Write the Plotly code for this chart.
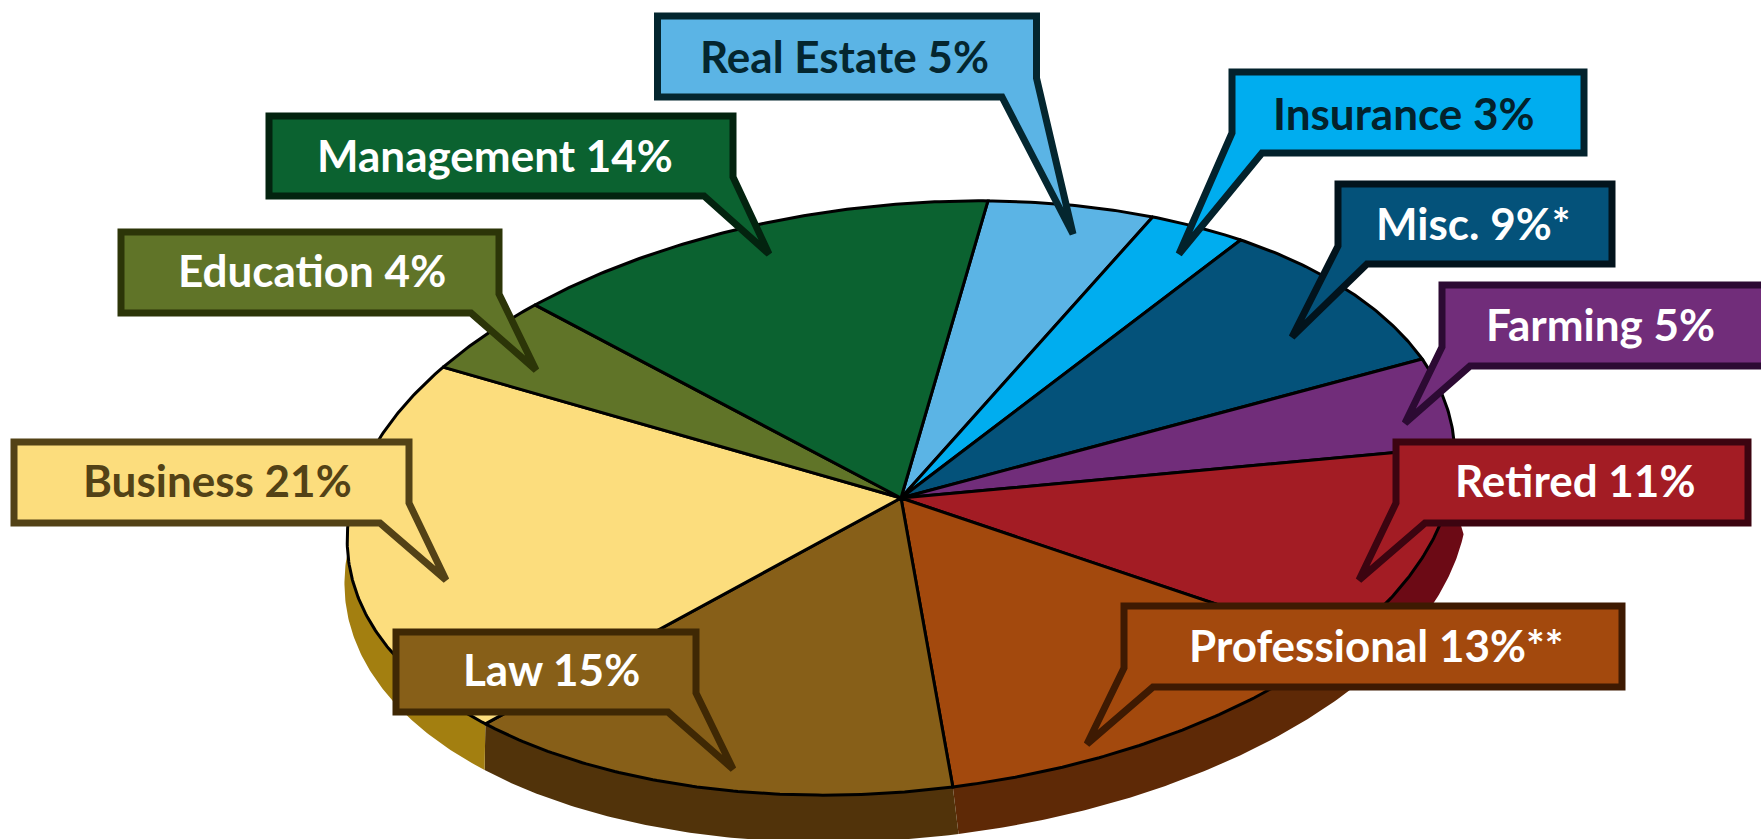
import math
import plotly.graph_objects as go

# ---------- data ----------
categories = ["Real Estate", "Insurance", "Misc.", "Farming", "Retired",
              "Professional", "Law", "Business", "Education", "Management"]
shares = [5, 3, 9, 5, 11, 13, 15, 21, 4, 14]
label_suffix = ["", "", "*", "", "", "**", "", "", "", ""]

top_colors = ["#5BB4E5", "#00ADEF", "#04527A", "#712D7A", "#A31C24",
              "#A3490D", "#875F18", "#FCDD7D", "#607428", "#0B6230"]
side_colors = ["#3A7390", "#006F99", "#02344E", "#481D4E", "#6C0A15",
               "#5E2906", "#51330A", "#A37F10", "#3D4A19", "#063E1E"]
border_colors = ["#04262F", "#03222C", "#02131C", "#2C0A33", "#3C0410",
                 "#3E1A02", "#3F2804", "#534216", "#2C3508", "#03230F"]
text_colors = ["#04262F", "#03222C", "#FFFFFF", "#FFFFFF", "#FFFFFF",
               "#FFFFFF", "#FFFFFF", "#534216", "#FFFFFF", "#FFFFFF"]

# ---------- pie projection ----------
W, H = 1761, 839
CX, CY = 901, 498
A, B = 556, 293
TILT = math.radians(6.0)
START = 12.2
DEPTH_CX, DEPTH_CY = 906, 541
DEPTH_SCALE = 1.014
SIDE_FROM, SIDE_TO = 100.0, 280.0
UX, UY = math.cos(TILT), -math.sin(TILT)
VX, VY = -math.sin(TILT), -math.cos(TILT)


def rim(theta, cx=CX, cy=CY, s=1.0):
    t = math.radians(theta)
    p, q = A * math.sin(t), B * math.cos(t)
    return cx + s * (p * UX + q * VX), cy + s * (p * UY + q * VY)


def arc(t0, t1, **kw):
    n = max(2, int(abs(t1 - t0) * 2))
    return [rim(t0 + (t1 - t0) * i / n, **kw) for i in range(n + 1)]


fig = go.Figure()
edges = [START]
for v in shares:
    edges.append(edges[-1] + v * 3.6)

# side wall of the disc
for i, c in enumerate(categories):
    t0, t1 = max(edges[i], SIDE_FROM), min(edges[i + 1], SIDE_TO)
    if t1 <= t0:
        continue
    pts = arc(t0, t1) + arc(t1, t0, cx=DEPTH_CX, cy=DEPTH_CY, s=DEPTH_SCALE)
    pts.append(pts[0])
    fig.add_trace(go.Scatter(x=[p[0] for p in pts], y=[p[1] for p in pts], mode="lines",
                             fill="toself", fillcolor=side_colors[i],
                             line=dict(width=0, color=side_colors[i]),
                             name=c + " side", hoverinfo="skip", showlegend=False))

# top face
for i, c in enumerate(categories):
    pts = [(CX, CY)] + arc(edges[i], edges[i + 1]) + [(CX, CY)]
    fig.add_trace(go.Scatter(x=[p[0] for p in pts], y=[p[1] for p in pts], mode="lines",
                             fill="toself", fillcolor=top_colors[i],
                             line=dict(width=3, color="#000000"),
                             name=c, hoverinfo="name", showlegend=False))

# ---------- callouts (box left, top, right, bottom; tail start, tip, end; label centre) ----------
boxes = {
    "Real Estate": (657.5, 16, 1036.5, 97, "R", 78, (1073, 234), 1002, 844, 56),
    "Insurance": (1232, 72, 1584, 153, "L", 133, (1179, 254), 1262, 1404, 113),
    "Misc.": (1338, 184, 1612, 264, "L", 246, (1292, 337), 1367, 1473, 223),
    "Farming": (1442, 285, 1780, 366, "L", 347, (1405, 423), 1470, 1600, 324),
    "Retired": (1396, 442, 1748, 523, "L", 503, (1359, 580), 1425, 1575, 480),
    "Professional": (1124, 606, 1622, 687, "L", 668, (1087, 744), 1153, 1376, 645),
    "Law": (396, 632, 696, 712, "R", 693, (733, 769), 668, 551.5, 669),
    "Business": (14, 442, 409, 523, "R", 503, (446, 580), 380, 217, 480),
    "Education": (121, 232, 499, 313, "R", 294, (536, 370), 471, 312, 270),
    "Management": (269, 116, 733, 196, "R", 177, (769, 254), 704, 494.5, 155),
}
draw_order = ["Real Estate", "Insurance", "Misc.", "Farming", "Retired",
              "Professional", "Business", "Law", "Education", "Management"]

shapes, annotations = [], []
for c in draw_order:
    i = categories.index(c)
    x0, y0, x1, y1, side, ty, tip, bx, lx, ly = boxes[c]
    if side == "R":
        path = (f"M{x0},{y0} L{x1},{y0} L{x1},{ty} L{tip[0]},{tip[1]} "
                f"L{bx},{y1} L{x0},{y1} Z")
    else:
        path = (f"M{x0},{y0} L{x1},{y0} L{x1},{y1} L{bx},{y1} "
                f"L{tip[0]},{tip[1]} L{x0},{ty} Z")
    shapes.append(dict(type="path", path=path, xref="x", yref="y", layer="above",
                       fillcolor=top_colors[i], line=dict(color=border_colors[i], width=7)))
    annotations.append(dict(x=lx, y=ly, xref="x", yref="y", showarrow=False,
                            xanchor="center", yanchor="middle",
                            text=f"{c} {shares[i]}%{label_suffix[i]}",
                            font=dict(family="Lato", size=44, color=text_colors[i], weight=700)))

fig.update_layout(
    width=W, height=H, margin=dict(l=0, r=0, t=0, b=0),
    paper_bgcolor="#FFFFFF", plot_bgcolor="#FFFFFF", showlegend=False,
    xaxis=dict(range=[0, W], visible=False, fixedrange=True),
    yaxis=dict(range=[H, 0], visible=False, fixedrange=True),
    shapes=shapes, annotations=annotations,
)
fig.write_html("out.html", config={"displayModeBar": False},
               post_script="document.body.style.margin='0';document.body.style.overflow='hidden';")
